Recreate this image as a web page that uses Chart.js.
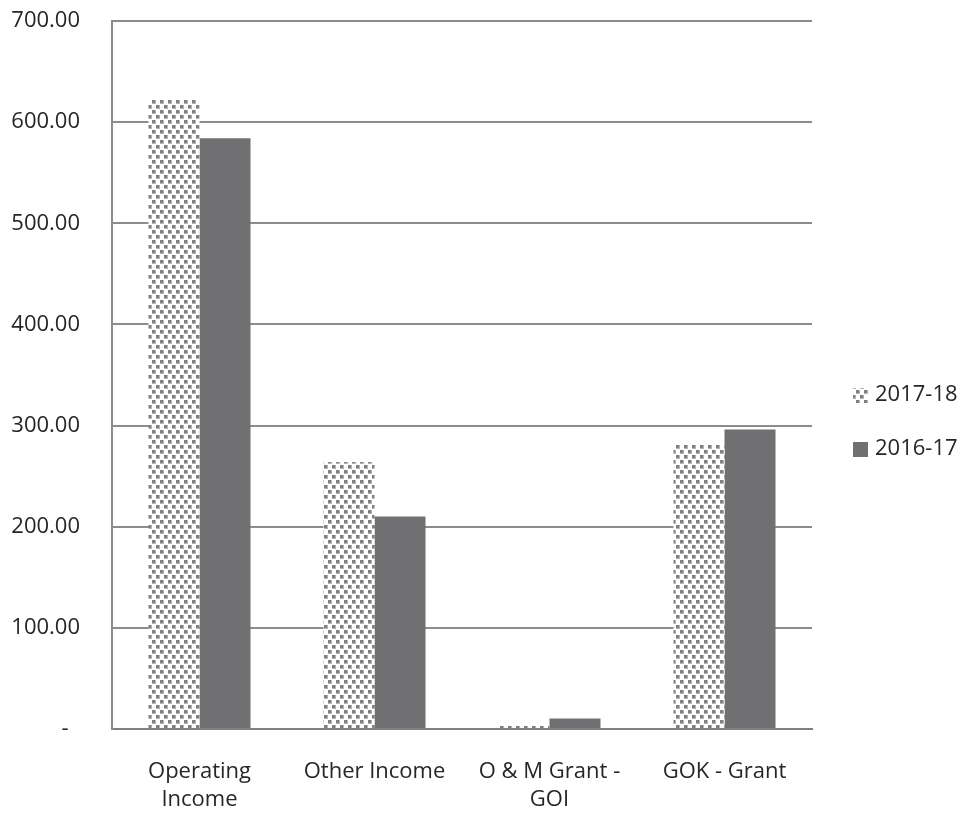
<!DOCTYPE html>
<html>
<head>
<meta charset="utf-8">
<style>
  html, body { margin: 0; padding: 0; background: #ffffff; }
  #wrap { width: 965px; height: 814px; }
</style>
<script src="https://cdn.jsdelivr.net/npm/chart.js@4/dist/chart.umd.min.js"></script>
</head>
<body>
<div id="wrap"><canvas id="chart" width="965" height="814"></canvas></div>
<script>
// Income heads and the two financial years
const categories = [['Operating', 'Income'], 'Other Income', ['O & M Grant -', 'GOI'], 'GOK - Grant'];
const seriesLabels = ['2017-18', '2016-17'];
const values2017_18 = [622, 264, 3, 281];
const values2016_17 = [584, 210, 10.5, 296];
const yMin = 0;
const yMax = 700;
const yStep = 100;

const FONT = '"Open Sans", "Liberation Sans", sans-serif';
const TEXT = '#262626';

// Dotted fill used for the 2017-18 bars
function makeDotPattern() {
  const tile = document.createElement('canvas');
  tile.width = 8;
  tile.height = 10;
  const g = tile.getContext('2d');
  g.fillStyle = '#ffffff';
  g.fillRect(0, 0, 8, 10);
  g.fillStyle = '#b4b4b4';
  g.fillRect(0, 0, 4, 4);
  g.fillRect(4, 5, 4, 4);
  g.fillStyle = '#808080';
  g.fillRect(0, 0, 3, 3);
  g.fillRect(4, 5, 3, 3);
  return document.getElementById('chart').getContext('2d').createPattern(tile, 'repeat');
}
const dotPattern = makeDotPattern();

// Legend drawn to the right of the plot, one row per series
const sideLegend = {
  id: 'sideLegend',
  afterDraw(chart) {
    const ctx = chart.ctx;
    const area = chart.chartArea;
    const boxX = area.right + 41;
    const rows = [395, 449];
    ctx.save();
    ctx.font = '22px ' + FONT;
    ctx.textBaseline = 'middle';
    ctx.textAlign = 'left';
    chart.data.datasets.forEach((ds, i) => {
      const cy = rows[i];
      ctx.fillStyle = ds.backgroundColor;
      ctx.fillRect(boxX, cy - 7, 15, 15);
      ctx.fillStyle = TEXT;
      ctx.fillText(ds.label, boxX + 22, cy);
    });
    ctx.restore();
  }
};

new Chart(document.getElementById('chart'), {
  type: 'bar',
  data: {
    labels: categories,
    datasets: [
      { label: seriesLabels[0], data: values2017_18, backgroundColor: dotPattern, borderWidth: 0 },
      { label: seriesLabels[1], data: values2016_17, backgroundColor: '#707073', borderWidth: 0 }
    ]
  },
  options: {
    responsive: false,
    animation: false,
    layout: { padding: { top: 21, right: 153, bottom: 0, left: 0 } },
    datasets: { bar: { barPercentage: 1.0, categoryPercentage: 0.583 } },
    plugins: {
      legend: { display: false },
      tooltip: { enabled: false }
    },
    scales: {
      x: {
        grid: { display: false, drawTicks: false },
        border: { display: true, color: '#7f7f82', width: 2 },
        ticks: {
          color: TEXT,
          font: { family: FONT, size: 22, lineHeight: 1.27 },
          padding: 29,
          maxRotation: 0,
          autoSkip: false
        },
        afterFit(scale) {
          scale.height = 85;
          scale.paddingLeft = 0;
          scale.paddingRight = 0;
        }
      },
      y: {
        min: yMin,
        max: yMax,
        grid: { color: '#8c8c8c', lineWidth: 2, drawTicks: false },
        border: { display: true, color: '#8c8c8c', width: 2 },
        ticks: {
          stepSize: yStep,
          color: TEXT,
          font: { family: FONT, size: 22 },
          padding: 32,
          callback: v => (v === 0 ? '-  ' : v.toFixed(2))
        },
        afterFit(scale) {
          scale.width = 112;
          scale.paddingTop = 0;
          scale.paddingBottom = 0;
        }
      }
    }
  },
  plugins: [sideLegend]
});
</script>
</body>
</html>
